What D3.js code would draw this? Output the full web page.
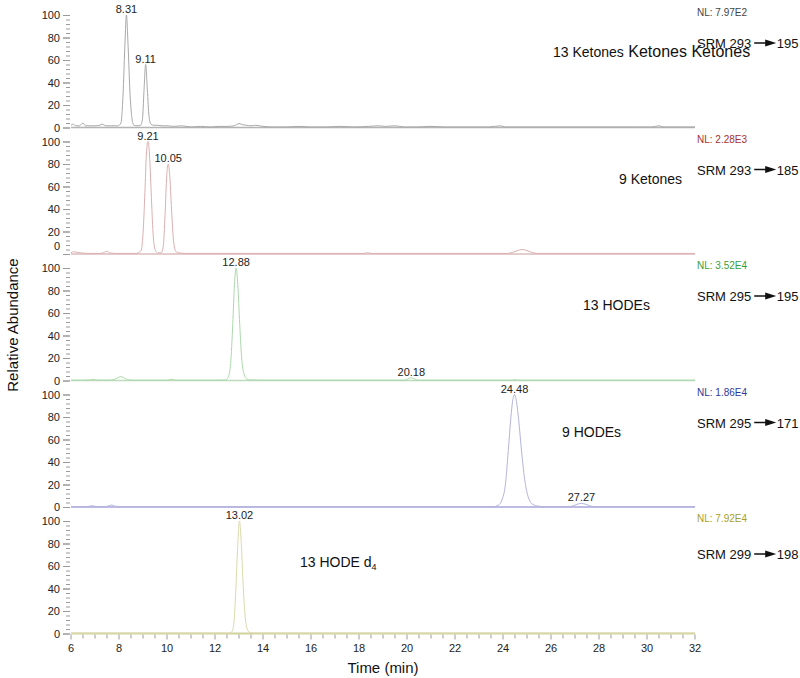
<!DOCTYPE html>
<html>
<head>
<meta charset="utf-8">
<script src="https://cdn.jsdelivr.net/npm/d3@7"></script>
<style>
  body { margin: 0; background: #fff; }
  svg { display: block; font-family: Arial, "Liberation Sans", Helvetica, sans-serif; }
</style>
</head>
<body>
<div id="chart"></div>
<script>
const width = 800;
const height = 678;

// retention time axis
const timeDomain = [6, 32];
const timeTicks = [6, 8, 10, 12, 14, 16, 18, 20, 22, 24, 26, 28, 30, 32];
const yTicks = [0, 20, 40, 60, 80, 100];

// traces, [time (min), relative abundance %]
const ketones13 = [
  [6.0,2],[6.1,3],[6.2,1.5],[6.35,1.5],[6.5,4],[6.6,1.5],[6.8,1.5],[7.0,1.5],[7.2,2],[7.3,3],[7.45,1.5],
  [7.7,1.5],[7.95,1.5],[8.08,4],[8.17,30],[8.24,70],[8.31,100],[8.38,72],[8.46,30],[8.54,8],[8.62,2],
  [8.75,1.5],[8.9,2],[8.98,8],[9.04,32],[9.11,56],[9.18,34],[9.25,10],[9.33,3],[9.45,2],[9.6,2],[9.8,1.5],
  [10.0,1.5],[10.3,1],[10.6,1.5],[11.0,0.5],[11.4,1],[11.8,0.5],[12.2,1],[12.5,1],[12.8,1.5],[13.0,3.5],
  [13.15,2.5],[13.3,2],[13.5,1.5],[13.7,2],[14.0,1],[14.4,0.5],[15.0,0.5],[15.5,1],[16.0,0.5],[16.6,0.5],
  [17.2,1],[17.8,0.5],[18.4,1],[18.8,1.5],[19.1,1],[19.5,1.5],[19.9,0.5],[20.4,0.5],[21.0,1],[21.6,0.5],
  [22.2,0.5],[22.8,0.5],[23.4,0.5],[23.9,1.5],[24.1,0.5],[24.8,0.5],[25.5,0.5],[26.2,0.5],[27.0,0.5],
  [27.8,0.5],[28.6,0.5],[29.4,0.5],[30.2,0.5],[30.5,1.5],[30.7,0.5],[31.4,0.5],[32.0,0.5]
];
const ketones9 = [
  [6.0,1],[6.1,2],[6.25,1.5],[6.4,1],[6.8,0.5],[7.2,0.5],[7.4,1.5],[7.5,2.5],[7.6,1],[7.9,0.5],[8.3,0.5],
  [8.7,0.5],[8.92,3],[9.0,18],[9.08,55],[9.14,88],[9.21,100],[9.28,85],[9.35,50],[9.43,15],[9.52,3],
  [9.62,1],[9.75,1],[9.84,6],[9.92,35],[9.99,70],[10.05,80],[10.12,68],[10.2,35],[10.28,10],[10.38,2],
  [10.5,1],[10.8,0.5],[11.5,0.5],[12.5,0.5],[14.0,0.5],[16.0,0.5],[18.2,0.5],[18.35,1.2],[18.5,0.5],
  [20.0,0.5],[22.0,0.5],[24.2,0.5],[24.4,1.5],[24.6,3],[24.8,4],[25.0,3],[25.2,1.5],[25.4,0.5],[26.0,0.5],
  [28.0,0.5],[30.0,0.5],[32.0,0.5]
];
const hodes13 = [
  [6.0,0.3],[6.5,0.3],[6.8,0.5],[6.95,1],[7.1,0.4],[7.5,0.3],[7.8,0.8],[7.95,2.5],[8.08,3.5],[8.2,2.5],
  [8.35,0.8],[8.6,0.3],[9.2,0.3],[10.0,0.3],[10.2,1],[10.35,0.3],[11.0,0.3],[12.0,0.3],[12.45,0.5],
  [12.55,3],[12.65,15],[12.74,50],[12.81,85],[12.88,100],[12.95,85],[13.03,50],[13.12,18],[13.22,5],
  [13.32,1.5],[13.45,0.5],[14.0,0.3],[16.0,0.3],[18.0,0.3],[19.9,0.3],[20.05,1.5],[20.18,2.5],[20.3,1.5],
  [20.45,0.3],[22.0,0.3],[24.4,0.3],[24.5,0.8],[24.6,0.3],[26.0,0.3],[28.0,0.3],[30.0,0.3],[32.0,0.3]
];
const hodes9 = [
  [6.0,0.3],[6.5,0.3],[6.8,0.8],[6.9,1.2],[7.0,0.5],[7.3,0.3],[7.55,0.8],[7.7,1.8],[7.85,0.6],[8.2,0.3],
  [10.0,0.3],[14.0,0.3],[18.0,0.3],[22.0,0.3],[23.6,0.3],[23.8,1.5],[23.95,6],[24.1,20],[24.22,50],
  [24.33,80],[24.4,94],[24.48,100],[24.56,94],[24.65,78],[24.78,48],[24.92,22],[25.05,9],[25.2,3],
  [25.4,1],[25.7,0.4],[26.2,0.3],[26.8,0.5],[26.95,1.2],[27.1,2.5],[27.27,3.2],[27.42,2.6],[27.6,1.2],
  [27.8,0.4],[28.2,0.3],[30.0,0.3],[32.0,0.3]
];
const hodeD4 = [
  [6.0,0.3],[8.0,0.3],[10.0,0.3],[12.0,0.3],[12.6,0.3],[12.7,1.5],[12.78,8],[12.86,35],[12.94,75],
  [13.02,100],[13.1,78],[13.18,40],[13.27,12],[13.36,3],[13.46,0.8],[13.6,0.3],[16.0,0.3],[20.0,0.3],
  [24.0,0.3],[28.0,0.3],[32.0,0.3]
];

// labelled peaks, [time, abundance]
const peaks13Ket = [[8.31,100],[9.11,56]];
const peaks9Ket = [[9.21,100],[10.05,80]];
const peaks13Hode = [[12.88,100],[20.18,2.5]];
const peaks9Hode = [[24.48,100],[27.27,3.2]];
const peaksD4 = [[13.02,100]];

const nlLabels = ["NL: 7.97E2", "NL: 2.28E3", "NL: 3.52E4", "NL: 1.86E4", "NL: 7.92E4"];
const srmFrom = ["SRM 293", "SRM 293", "SRM 295", "SRM 295", "SRM 299"];
const srmTo = ["195", "185", "195", "171", "198"];

const panels = [
  { trace: ketones13, peaks: peaks13Ket, line: "#a8a8a8", base: "#b4b4b4", nl: "#444444", name: "13 Ketones", nameX: 553 },
  { trace: ketones9, peaks: peaks9Ket, line: "#dcb0b0", base: "#dcbcbc", nl: "#a83030", name: "9 Ketones", nameX: 619 },
  { trace: hodes13, peaks: peaks13Hode, line: "#acd8ac", base: "#bcdcbc", nl: "#38a038", name: "13 HODEs", nameX: 583 },
  { trace: hodes9, peaks: peaks9Hode, line: "#b4b4dc", base: "#bcbce4", nl: "#303898", name: "9 HODEs", nameX: 562 },
  { trace: hodeD4, peaks: peaksD4, line: "#dadaac", base: "#d2d29c", nl: "#a8a028", name: "13 HODE d", nameX: 300 }
];

const left = 71, right = 695;
const top0 = 15, pitch = 126.5, ph = 112.5;

const svg = d3.select("#chart").append("svg")
  .attr("width", width)
  .attr("height", height);

const x = d3.scaleLinear().domain(timeDomain).range([left, right]);

panels.forEach((p, i) => {
  const yTop = top0 + i * pitch;
  const y = d3.scaleLinear().domain([0, 100]).range([yTop + ph, yTop]);
  const g = svg.append("g");

  // y ticks (no spine), minor every 4
  g.append("g").selectAll("line")
    .data(d3.range(0, 101, 4).concat(yTicks))
    .join("line")
    .attr("x1", d => yTicks.includes(d) ? left - 8 : left - 5)
    .attr("x2", left - 1)
    .attr("y1", d => y(d) + 0.5)
    .attr("y2", d => y(d) + 0.5)
    .attr("stroke", "#9a9a9a")
    .attr("stroke-width", 1);

  g.append("g").selectAll("text")
    .data(yTicks)
    .join("text")
    .attr("x", left - 11)
    .attr("y", d => y(d) + 4 - (i === 1 && d === 0 ? 8 : 0))
    .attr("text-anchor", "end")
    .attr("font-size", 11)
    .attr("fill", "#222")
    .text(d => d);

  // baseline
  g.append("line")
    .attr("x1", left).attr("x2", right)
    .attr("y1", y(0)).attr("y2", y(0))
    .attr("stroke", p.base)
    .attr("stroke-width", i >= 3 ? 2 : 1.3);

  // trace
  g.append("path")
    .datum(p.trace)
    .attr("fill", "none")
    .attr("stroke", p.line)
    .attr("stroke-width", 1)
    .attr("d", d3.line().x(d => x(d[0])).y(d => y(d[1])).curve(d3.curveMonotoneX));

  // peak labels
  g.append("g").selectAll("text")
    .data(p.peaks)
    .join("text")
    .attr("x", d => x(d[0]))
    .attr("y", d => y(d[1]) - 2)
    .attr("text-anchor", "middle")
    .attr("font-size", 11)
    .attr("fill", "#222")
    .text(d => d[0].toFixed(2));

  // NL label
  g.append("text")
    .attr("x", 697)
    .attr("y", yTop + 1)
    .attr("font-size", 10)
    .attr("fill", p.nl)
    .text(nlLabels[i]);

  // SRM transition
  const srmY = yTop + 33 + (i === 4 ? 5 : 0);
  const t1 = g.append("text")
    .attr("x", 697)
    .attr("y", srmY)
    .attr("font-size", 13)
    .attr("fill", "#111")
    .text(srmFrom[i]);
  const w1 = t1.node().getComputedTextLength();
  const ax = 697 + w1 + 3;
  g.append("line")
    .attr("x1", ax).attr("x2", ax + 13)
    .attr("y1", srmY - 5).attr("y2", srmY - 5)
    .attr("stroke", "#111").attr("stroke-width", 1.5);
  g.append("path")
    .attr("d", `M${ax + 11},${srmY - 8.5}L${ax + 22},${srmY - 5}L${ax + 11},${srmY - 1.5}Z`)
    .attr("fill", "#111");
  g.append("text")
    .attr("x", ax + 22.5)
    .attr("y", srmY)
    .attr("font-size", 13)
    .attr("fill", "#111")
    .text(srmTo[i]);

  // compound name
  const nameY = yTop + 42 + (i === 4 ? 4 : 0);
  const nt = g.append("text")
    .attr("x", p.nameX)
    .attr("y", nameY)
    .attr("font-size", 14)
    .attr("fill", "#111")
    .text(p.name);
  if (i === 0) {
    nt.append("tspan").attr("font-size", 16).text(" Ketones Ketones");
  }
  if (i === 4) {
    nt.append("tspan").attr("font-size", 9).attr("dy", 3).text("4");
  }
});

// x axis on bottom panel
const yBottom = top0 + 4 * pitch + ph;
svg.append("g").selectAll("line")
  .data(d3.range(6, 32.01, 0.5))
  .join("line")
  .attr("x1", d => x(d)).attr("x2", d => x(d))
  .attr("y1", yBottom + 1)
  .attr("y2", d => Number.isInteger(d) && d % 2 === 0 ? yBottom + 6 : yBottom + 5)
  .attr("stroke", "#9a9a9a");

svg.append("g").selectAll("text")
  .data(timeTicks)
  .join("text")
  .attr("x", d => x(d))
  .attr("y", yBottom + 18)
  .attr("text-anchor", "middle")
  .attr("font-size", 11)
  .attr("fill", "#222")
  .text(d => d);

svg.append("text")
  .attr("x", x(19))
  .attr("y", yBottom + 39)
  .attr("text-anchor", "middle")
  .attr("font-size", 15)
  .attr("fill", "#111")
  .text("Time (min)");

svg.append("text")
  .attr("transform", `translate(18,${325}) rotate(-90)`)
  .attr("text-anchor", "middle")
  .attr("font-size", 15)
  .attr("fill", "#111")
  .text("Relative Abundance");
</script>
</body>
</html>
